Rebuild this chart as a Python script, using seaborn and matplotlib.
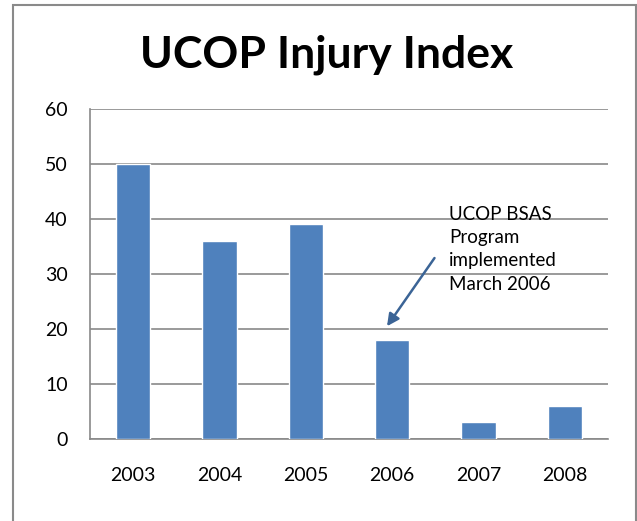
import matplotlib
matplotlib.use("Agg")
import matplotlib.pyplot as plt
import matplotlib.patches as patches
import seaborn as sns
import pandas as pd

# 연도별 부상 지수
years = ["2003", "2004", "2005", "2006", "2007", "2008"]
injury_index = [50, 36, 39, 18, 3, 6]
y_ticks = [0, 10, 20, 30, 40, 50, 60]

df = pd.DataFrame({"year": years, "index": injury_index})

sns.set_style("white")
plt.rcParams["font.family"] = ["Lato", "DejaVu Sans"]
plt.rcParams["text.color"] = "black"
plt.rcParams["xtick.color"] = "black"
plt.rcParams["ytick.color"] = "black"

fig = plt.figure(figsize=(6.37, 5.21), dpi=100)
ax = fig.add_axes([0.1413, 0.1574, 0.8132, 0.6334])

sns.barplot(data=df, x="year", y="index", color="#4F81BD", width=0.4,
            saturation=1, ax=ax, zorder=3)

ax.set_ylim(0, 60)
ax.set_xlim(-0.5, len(years) - 0.5)
ax.set_yticks(y_ticks)
ax.set_xlabel("")
ax.set_ylabel("")

grid_col = "#898989"
ax.yaxis.grid(True, color=grid_col, linewidth=1.2, zorder=0)
ax.set_axisbelow(True)
for s in ["top", "right"]:
    ax.spines[s].set_visible(False)
for s in ["left", "bottom"]:
    ax.spines[s].set_color(grid_col)
    ax.spines[s].set_linewidth(1.2)

# x축 눈금은 카테고리 경계에
ax.set_xticks([i - 0.5 for i in range(len(years) + 1)], minor=True)
ax.tick_params(axis="x", which="major", length=0, pad=20, labelsize=14)
ax.tick_params(axis="x", which="minor", length=6, width=1.2, color=grid_col,
               direction="out")
ax.tick_params(axis="y", length=7, width=1.2, color=grid_col, pad=9,
               labelsize=14)

# 화살표
ax.annotate("", xy=(2.94, 20.5), xytext=(3.49, 32.9),
            arrowprops=dict(arrowstyle="-|>", color="#3B6496", lw=1.8,
                            mutation_scale=18, shrinkA=0, shrinkB=0))
ax.text(3.66, 42.4, "UCOP BSAS\nProgram\nimplemented\nMarch 2006",
        fontsize=13.5, va="top", ha="left", linespacing=1.45)

fig.text(0.512, 0.895, "UCOP Injury Index", fontsize=32, weight="bold",
         ha="center", va="center")

border = patches.Rectangle((13 / 637, -0.02), 623 / 637, 1 - 5 / 521 + 0.02,
                           transform=fig.transFigure, fill=False,
                           edgecolor="#8a8a8a", linewidth=1.5)
fig.patches.append(border)

fig.savefig("out.png", dpi=100)
